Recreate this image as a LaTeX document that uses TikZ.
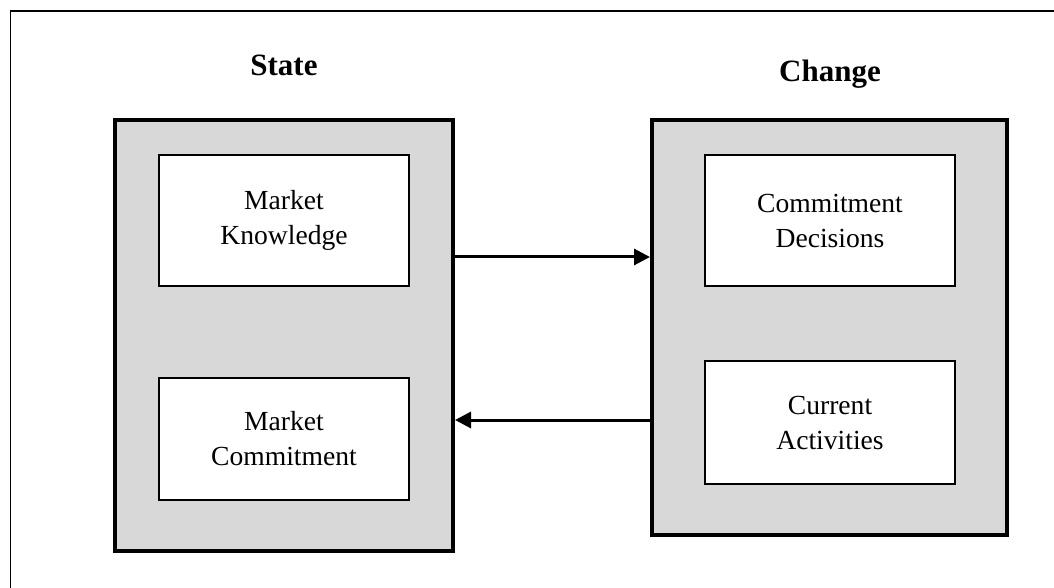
\documentclass[tikz,border=0pt]{standalone}
\usepackage{fontspec}
\setmainfont{Liberation Serif}
\usepackage{xcolor}
\usepackage{tikz}
\usetikzlibrary{arrows.meta}
\definecolor{boxgray}{RGB}{216,216,216}
\tikzset{grp/.style={rectangle,draw,fill=boxgray,line width=2pt,inner sep=0pt},
         item/.style={rectangle,draw,fill=white,line width=0.75pt,minimum width=125pt,align=center,inner sep=0pt,font=\fontsize{13.8}{17.5}\selectfont},
         ttl/.style={anchor=base,font=\fontsize{15.5}{18}\selectfont\bfseries},
         flow/.style={line width=1.5pt,-{Triangle[length=8pt,width=8pt]}}}

\begin{document}
\begin{tikzpicture}[x=0.5pt,y=-0.5pt]
    \useasboundingbox (0,0) rectangle (1054,588);
    \clip (0,0) rectangle (1054,588);
    \draw [line width=0.75pt] (10.5,11) rectangle (1080,620);

    \node[ttl] (st)at (284,76) {State};
    \node[ttl] (ch)at (830,82) {Change};

    \node[grp,minimum width=169pt,minimum height=215.5pt] (state)at (284,335.5) {};
    \node[grp,minimum width=177.5pt,minimum height=207.5pt] (change)at (829.5,327.5) {};

    \node[item,minimum height=65.5pt] (mk)at (284,220.5) {Market\\Knowledge};
    \node[item,minimum height=61pt] (mc)at (284,439) {Market\\Commitment};
    \node[item,minimum height=65.5pt] (cd)at (830,220.5) {Commitment\\Decisions};
    \node[item,minimum height=61.5pt] (ca)at (830,422.5) {Current\\Activities};

    \draw [flow] (state.east |- 0,257) to (change.west |- 0,257);
    \draw [flow] (change.west |- 0,420) to (state.east |- 0,420);
\end{tikzpicture}
\end{document}
